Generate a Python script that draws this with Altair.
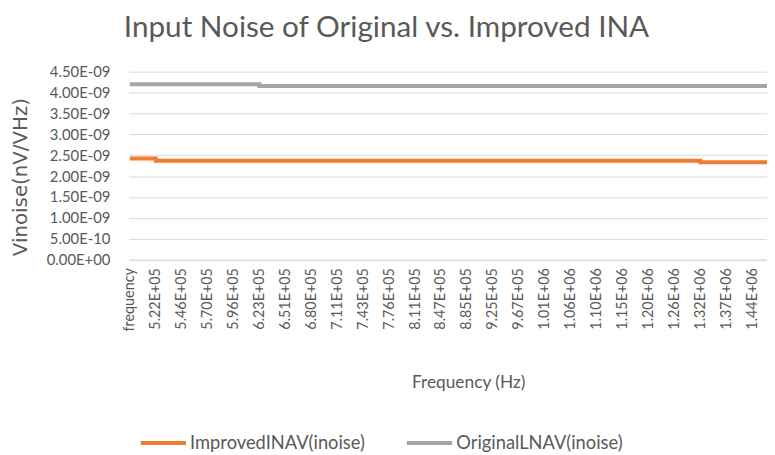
import json
import altair as alt
import pandas as pd

# category labels shown on the x axis (one per labelled sample)
freq_labels = ["frequency", "5.22E+05", "5.46E+05", "5.70E+05", "5.96E+05", "6.23E+05",
               "6.51E+05", "6.80E+05", "7.11E+05", "7.43E+05", "7.76E+05", "8.11E+05",
               "8.47E+05", "8.85E+05", "9.25E+05", "9.67E+05", "1.01E+06", "1.06E+06",
               "1.10E+06", "1.15E+06", "1.20E+06", "1.26E+06", "1.32E+06", "1.37E+06",
               "1.44E+06"]
# sample positions along the category axis (last one = final, unlabelled sample)
sample_pos = list(range(25)) + [24.57]
improved = [2.42e-9] + [2.37e-9] * 21 + [2.33e-9] * 4
original = [4.20e-9] * 5 + [4.155e-9] * 21
y_tick_values = [0, 5e-10, 1e-9, 1.5e-9, 2e-9, 2.5e-9, 3e-9, 3.5e-9, 4e-9, 4.5e-9]
y_tick_labels = ["0.00E+00", "5.00E-10", "1.00E-09", "1.50E-09", "2.00E-09",
                 "2.50E-09", "3.00E-09", "3.50E-09", "4.00E-09", "4.50E-09"]
series_names = ["ImprovedINAV(inoise)", "OriginalLNAV(inoise)"]
colors = ["#ED7D31", "#A5A5A5"]

rows = []
for i, p in enumerate(sample_pos):
    rows.append({"idx": p, "series": series_names[0], "v": improved[i]})
    rows.append({"idx": p, "series": series_names[1], "v": original[i]})
df = pd.DataFrame(rows)

FONT = "Lato"
NARROW = "Liberation Sans Narrow, Lato"
GREY = "#595959"

x_expr = json.dumps(freq_labels) + "[round(datum.value)]"
y_expr = json.dumps(y_tick_labels) + "[round(datum.value/5e-10)]"

chart = alt.Chart(df).mark_line(strokeWidth=4, interpolate="step-after").encode(
    x=alt.X("idx:Q", scale=alt.Scale(domain=[-0.04, 24.57], nice=False, zero=False),
            axis=alt.Axis(values=list(range(25)), labelExpr=x_expr, labelAngle=-90,
                          labelAlign="right", labelBaseline="middle", labelPadding=8,
                          ticks=False, grid=False, domainColor="#D9D9D9",
                          labelFontSize=14.5, labelColor=GREY, labelFont=FONT,
                          title="Frequency (Hz)", titleFontSize=17.5, titleFont=FONT,
                          titleColor=GREY, titleFontWeight="normal",
                          titleX=343, titleY=124, titleAlign="center",
                          titleBaseline="middle", labelOverlap=False)),
    y=alt.Y("v:Q", scale=alt.Scale(domain=[0, 4.5e-9], nice=False),
            axis=alt.Axis(values=y_tick_values, labelExpr=y_expr,
                          ticks=False, domain=False, gridColor="#D9D9D9",
                          labelFontSize=15, labelColor=GREY, labelFont=NARROW,
                          labelPadding=19, title="Vinoise(nV/VHz)", titleFontSize=20,
                          titleFont="DejaVu Sans", titleColor=GREY,
                          titleFontWeight="normal", titleAngle=-90,
                          titleX=-109, titleY=106, titleAlign="center",
                          titleBaseline="middle")),
    color=alt.Color("series:N", scale=alt.Scale(domain=series_names, range=colors),
                    legend=alt.Legend(orient="none", legendX=10, legendY=350,
                                      direction="horizontal", title=None,
                                      symbolType="stroke", symbolSize=2100,
                                      symbolStrokeWidth=4, labelFontSize=18.5,
                                      labelFont=FONT, labelColor=GREY,
                                      columnPadding=34, labelOffset=2, labelLimit=300)),
).properties(
    width=645, height=190,
    title=alt.TitleParams("Input Noise of Original vs. Improved INA", fontSize=30,
                          font=FONT, color=GREY, fontWeight="normal", anchor="middle",
                          offset=22, dx=-62),
    autosize=alt.AutoSizeParams(type="none"),
    padding={"left": 122, "top": 62, "right": 0, "bottom": 195},
).configure_view(stroke=None)

chart.save("out.html", embed_options={"renderer": "svg", "actions": False})
